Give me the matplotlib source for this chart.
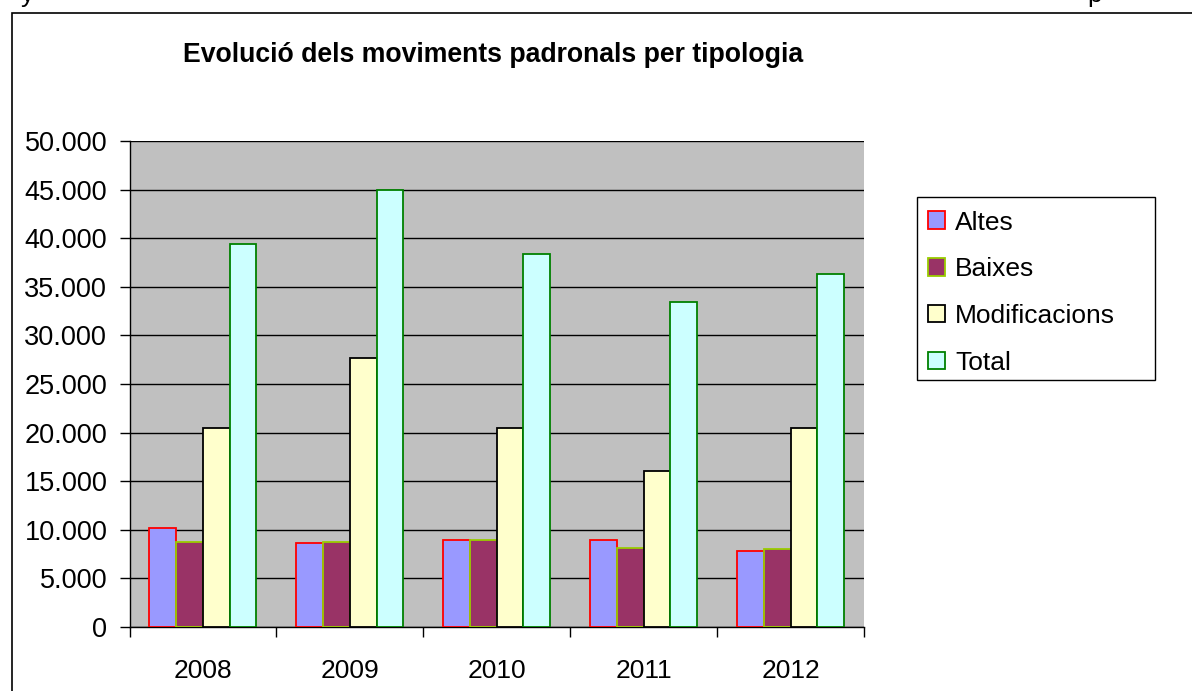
import numpy as np
import matplotlib
matplotlib.use("Agg")
import matplotlib.pyplot as plt
from matplotlib.ticker import FuncFormatter, FixedLocator
from matplotlib.patches import Rectangle

plt.rcParams['font.family'] = ['Liberation Sans', 'DejaVu Sans']

years = ["2008", "2009", "2010", "2011", "2012"]
altes = [10150, 8600, 8950, 8950, 7800]
baixes = [8750, 8750, 8900, 8150, 8000]
modificacions = [20500, 27700, 20500, 16100, 20500]
total = [39450, 44950, 38400, 33450, 36300]

series = [
    ("Altes", altes, "#9999FF", "#FF0000"),
    ("Baixes", baixes, "#993366", "#99CC00"),
    ("Modificacions", modificacions, "#FFFFCC", "#000000"),
    ("Total", total, "#CCFFFF", "#008000"),
]

W, H = 1192, 691
fig = plt.figure(figsize=(W / 100, H / 100), dpi=100)

# outer chart border (only left and top edges are visible)
fig.patches.append(Rectangle((12 / W, -0.05), 1.2, 1 - 13 / H + 0.05,
                             transform=fig.transFigure, fill=False,
                             edgecolor="black", linewidth=1.2))

# clipped remnants of the surrounding document text
fig.text(21 / W, 1 - 2 / H, "y", fontsize=19, va="baseline")
fig.text(1087 / W, 1 - 2 / H, "p", fontsize=19, va="baseline")

ax = fig.add_axes([129.5 / W, 1 - 627 / H, (864 - 129.5) / W, (627 - 141) / H])
ax.set_facecolor("#C0C0C0")

x = np.arange(len(years))
w = 0.182
for j, (name, vals, fc, ec) in enumerate(series):
    ax.bar(x + (j - 1.5) * w, vals, w, color=fc, edgecolor=ec,
           linewidth=1.3, label=name, zorder=3)

ax.set_xlim(-0.5, len(years) - 0.5)
ax.set_ylim(0, 50000)
ax.set_yticks(np.arange(0, 50001, 5000))
ax.yaxis.set_major_formatter(FuncFormatter(lambda v, p: f"{int(v):,}".replace(",", ".")))
ax.grid(axis="y", color="black", linewidth=1, zorder=1)
ax.set_axisbelow(True)

ax.xaxis.set_major_locator(FixedLocator(np.arange(-0.5, len(years), 1.0)))
ax.xaxis.set_minor_locator(FixedLocator(x))
ax.set_xticklabels([], minor=False)
ax.set_xticklabels(years, minor=True)
ax.tick_params(axis="x", which="minor", length=0, pad=23, labelsize=19)
ax.tick_params(axis="x", which="major", length=7, width=1, direction="out")
ax.tick_params(axis="y", length=7, width=1, direction="out", labelsize=19.5, pad=9)

for s in ["top", "right"]:
    ax.spines[s].set_visible(False)
for s in ["left", "bottom"]:
    ax.spines[s].set_color("black")
    ax.spines[s].set_linewidth(1)

fig.text(493 / W, 1 - 55 / H, "Evolució dels moviments padronals per tipologia",
         fontsize=19.2, fontweight="bold", ha="center", va="center")

# legend box is wider than its content, so draw its frame separately
fig.patches.append(Rectangle((917 / W, 1 - 380 / H), (1155 - 917) / W, (380 - 197) / H,
                             transform=fig.transFigure, facecolor="white",
                             edgecolor="black", linewidth=1, zorder=2))
leg = fig.legend(loc="upper left", bbox_to_anchor=(917 / W, 1 - 200 / H),
                 fontsize=19, frameon=False,
                 handlelength=0.65, handleheight=0.65, handletextpad=0.4,
                 labelspacing=0.86, borderpad=0.4, borderaxespad=0)
leg.set_zorder(3)

fig.savefig("out.png", dpi=100)
